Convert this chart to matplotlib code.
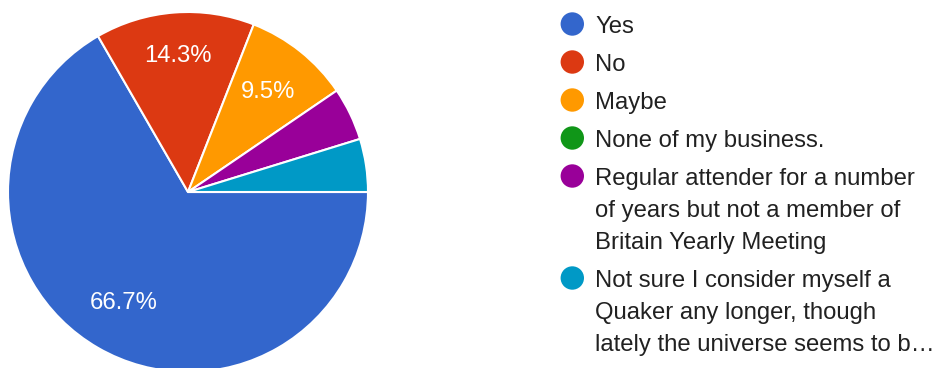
import matplotlib.pyplot as plt
from matplotlib.patches import Circle

plt.rcParams['font.family'] = ['Liberation Sans', 'DejaVu Sans']

# данные опроса (число ответов, всего 21)
labels = ["Yes", "No", "Maybe", "None of my business.",
          "Regular attender for a number\nof years but not a member of\nBritain Yearly Meeting",
          "Not sure I consider myself a\nQuaker any longer, though\nlately the universe seems to b\u2026"]
counts = [14, 3, 2, 0, 1, 1]
colors = ["#3366cc", "#dc3912", "#ff9900", "#109618", "#990099", "#0099c6"]

W, H = 935, 368
fig = plt.figure(figsize=(W / 100, H / 100), dpi=100)

# круг: центр (188, 192), радиус 180 px
cx, cy, r = 188, 192, 180
ax = fig.add_axes([(cx - r) / W, (H - cy - r) / H, 2 * r / W, 2 * r / H])

# нулевые доли не рисуем, но оставляем в легенде
shown = [i for i, v in enumerate(counts) if v > 0]

def pct(p):
    return f"{p:.1f}%" if p >= 6 else ""

wedges, texts, autotexts = ax.pie(
    [counts[i] for i in shown], colors=[colors[i] for i in shown],
    startangle=0, counterclock=False, radius=1,
    autopct=pct, pctdistance=0.71,
    wedgeprops=dict(edgecolor="white", linewidth=1.5),
    textprops=dict(color="white", fontsize=17.2))

# подпись "No" чуть дальше от центра
x, y = autotexts[1].get_position()
autotexts[1].set_position((x * 0.76 / 0.71, y * 0.76 / 0.71))

ax.set_xlim(-1, 1)
ax.set_ylim(-1, 1)
ax.set_aspect("auto")
ax.axis("off")

# легенда в пиксельных координатах
lg = fig.add_axes([0, 0, 1, 1])
lg.set_xlim(0, W)
lg.set_ylim(H, 0)
lg.axis("off")

base = 33.3
for lab, col in zip(labels, colors):
    lg.add_patch(Circle((572.3, base - 9.3), 11.7, color=col, lw=0))
    lines = lab.split("\n")
    for k, line in enumerate(lines):
        lg.text(595, base + 32 * k, line, fontsize=17.2, color="#212121",
                va="baseline", ha="left")
    base += 32 * (len(lines) - 1) + 38

fig.savefig("out.png", dpi=100)
